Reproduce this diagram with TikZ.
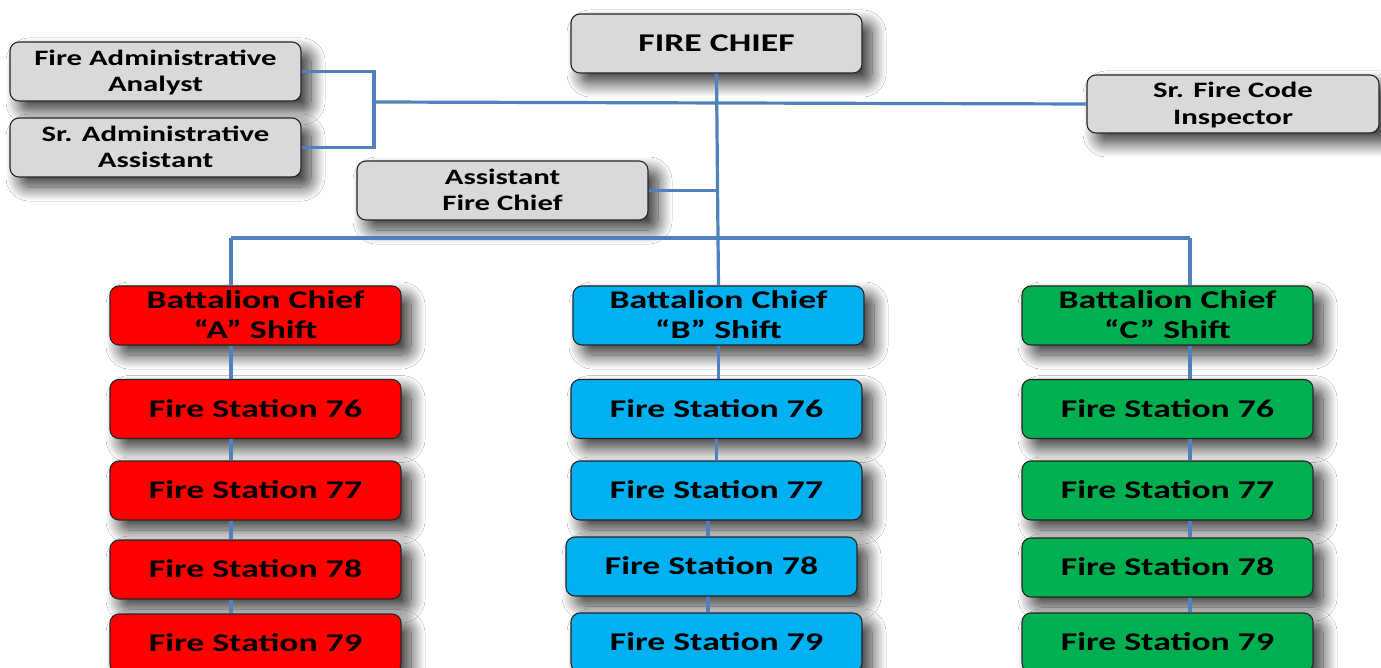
\documentclass[tikz,border=0pt]{standalone}
\usepackage{fontspec}
\newfontfamily\orgfont{Carlito}[FakeStretch=1.4]
\usetikzlibrary{positioning,shadows.blur}

\definecolor{postgray}{HTML}{D9D9D9}
\definecolor{shiftA}{HTML}{FF0000}
\definecolor{shiftB}{HTML}{00B0F0}
\definecolor{shiftC}{HTML}{00B050}
\definecolor{linkblue}{HTML}{4F81BD}

\tikzset{
  post/.style={draw=black!85, line width=1.1pt, rounded corners=9pt,
    minimum width=291pt, minimum height=59pt, inner sep=1pt, align=center,
    fill=postgray, font=\orgfont\bfseries\fontsize{22}{26.5}\selectfont,
    text depth=1pt,
    blur shadow={shadow xshift=10pt, shadow yshift=-10pt, shadow blur steps=16,
      shadow blur radius=14pt, shadow opacity=80}},
  chiefbox/.style={post, font=\orgfont\bfseries\fontsize{25.5}{30}\selectfont},
  station/.style={chiefbox},
  link/.style={draw=linkblue, line width=3.2pt}
}

\begin{document}
\begin{tikzpicture}[x=1pt, y=-1pt]
\fill[white] (0,0) rectangle (1381,668);
\useasboundingbox (0,0) rectangle (1381,668);

% head office
\node[post] (chief) at (716.5,43.5) {\fontsize{25.5}{30}\selectfont FIRE CHIEF};
\node[post] (analyst) at (155.5,71.5) {Fire Administrative\\Analyst};
\node[post] (assist) at (155.5,147.5) {Sr. Administrative\\Assistant};
\node[post, minimum width=292pt, minimum height=58pt] (inspector) at (1233,104) {Sr. Fire Code\\Inspector};
\node[post] (deputy) at (502.5,190.5) {Assistant\\Fire Chief};

% battalion chiefs
\node[chiefbox, fill=shiftA] (bA) at (255.5,315.5) {Battalion Chief\\“A” Shift};
\node[chiefbox, fill=shiftB] (bB) at (718.5,315.5) {Battalion Chief\\“B” Shift};
\node[chiefbox, fill=shiftC] (bC) at (1167.5,315.5) {Battalion Chief\\“C” Shift};

% stations, A shift
\node[station, fill=shiftA] (a76) at (255.5,409) {Fire Station 76};
\node[station, fill=shiftA] (a77) at (255.5,490.5) {Fire Station 77};
\node[station, fill=shiftA] (a78) at (255.5,569.5) {Fire Station 78};
\node[station, fill=shiftA] (a79) at (255.5,643.5) {Fire Station 79};

% stations, B shift
\node[station, fill=shiftB] (b76) at (716.5,409) {Fire Station 76};
\node[station, fill=shiftB] (b77) at (716.5,490.5) {Fire Station 77};
\node[station, fill=shiftB] (b78) at (711.5,566.5) {Fire Station 78};
\node[station, fill=shiftB] (b79) at (716.5,642.5) {Fire Station 79};

% stations, C shift
\node[station, fill=shiftC] (c76) at (1167.5,409) {Fire Station 76};
\node[station, fill=shiftC] (c77) at (1167.5,490.5) {Fire Station 77};
\node[station, fill=shiftC] (c78) at (1167.5,567.5) {Fire Station 78};
\node[station, fill=shiftC] (c79) at (1167.5,642.5) {Fire Station 79};

% junctions
\coordinate (brk) at (374,102);
\coordinate (jA) at (231,238);
\coordinate (jB) at (718,238);
\coordinate (jC) at (1190,238);

\draw[link] (analyst.east) -| (brk) |- (assist.east);
\draw[link] (brk) -- (inspector.west);
\draw[link] (chief.south) -- (jB);
\draw[link] (deputy.east) -- (deputy.east -| chief.south);
\draw[link] (jA) -- (jC);
\draw[link] (jA) -- (jA |- bA.north);
\draw[link] (jB) -- (bB.north);
\draw[link] (jC) -- (jC |- bC.north);

\foreach \u/\v in {bA/a76,a76/a77,a77/a78,a78/a79}
  \draw[link] (jA |- \u.south) -- (jA |- \v.north);
\foreach \u/\v in {bC/c76,c76/c77,c77/c78,c78/c79}
  \draw[link] (jC |- \u.south) -- (jC |- \v.north);
\draw[link] (bB.south) -- (bB.south |- b76.north);
\draw[link] (b76.south) -- (b77.north);
\draw[link] ([xshift=-3.5pt]b77.south -| b78.north) -- ([xshift=-3.5pt]b78.north);
\draw[link] ([xshift=-3.5pt]b78.south) -- ([xshift=-3.5pt]b78.south |- b79.north);
\end{tikzpicture}
\end{document}
